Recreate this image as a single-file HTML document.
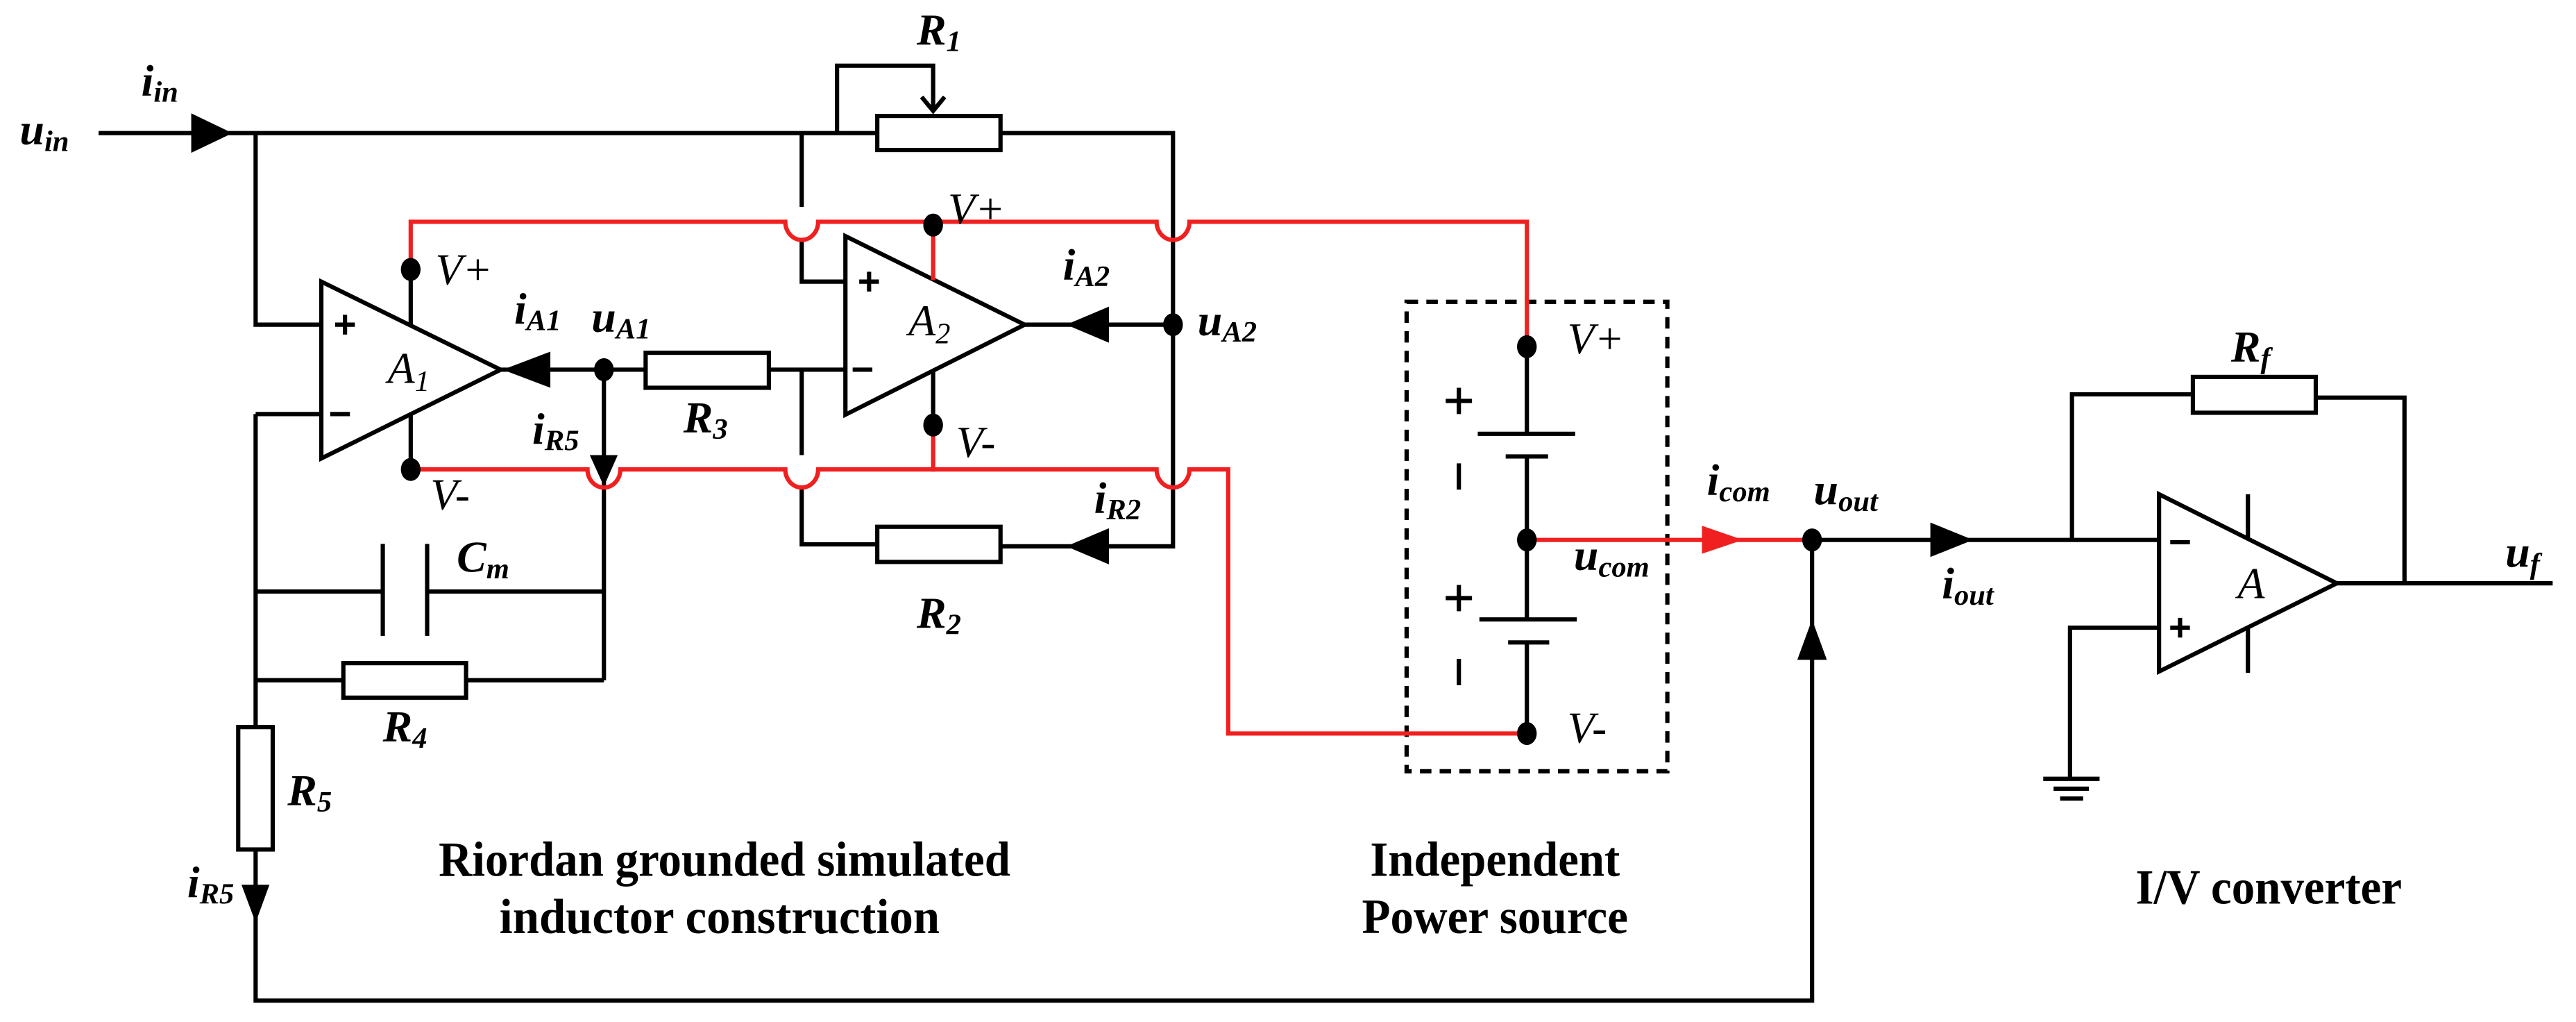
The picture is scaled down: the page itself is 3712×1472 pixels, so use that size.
<!DOCTYPE html>
<html><head><meta charset="utf-8"><style>
html,body{margin:0;padding:0;background:#fff;}
svg{display:block;}
svg text{font-family:"Liberation Serif","DejaVu Serif",serif;}
.l{font-style:italic;font-weight:bold;font-size:27px;}
.s{font-size:18px;}
.t{font-weight:bold;font-size:30px;}
</style></head><body>
<svg width="3712" height="1472" viewBox="0 0 1568 622" preserveAspectRatio="none" xmlns="http://www.w3.org/2000/svg" font-family="Liberation Serif, DejaVu Serif, serif">
<g fill="none" stroke="#000" stroke-width="2.6" stroke-linejoin="miter">
<path d="M60 81 H534 M609 81 H714 V332.5 H609"/>
<path d="M155.6 81 V197.6 H195.6"/>
<rect x="534" y="70.6" width="75" height="20.7"/>
<path d="M509.5 81 V40 H568 V67"/>
<path d="M561 59 L568 67.5 L575 59"/>
<path d="M195.6 171.4 V279 L304.7 225 Z"/>
<path d="M250 164 V198 M250 252 V285.7"/>
<path d="M155.6 252 H195.6 M155.6 252 V442.5"/>
<path d="M304.7 225 H393 M468 225 H514.6"/>
<rect x="393" y="214.7" width="75" height="21.3"/>
<path d="M367.6 225 V414"/>
<path d="M514.6 143.7 V252.4 L623.7 197.6 Z"/>
<path d="M488 81 V126 M488 146 V171.4 H514.6"/>
<path d="M488 225 V277 M488 297 V331.3 H534"/>
<rect x="534" y="320.6" width="75" height="21.4"/>
<path d="M623.7 197.6 H714"/>
<path d="M568 225.6 V258.7"/>
<path d="M155.6 360 H233 M260 360 H367.6"/>
<path d="M233 331 V387 M260 331 V387"/>
<path d="M155.6 414 H209 M283.7 414 H367.6"/>
<rect x="209" y="403.6" width="74.7" height="21"/>
<rect x="145" y="442.5" width="21" height="74.5"/>
<path d="M155.6 517 V609 H1103 V328.6"/>
<path d="M929.4 211 V264 M929.4 277.8 V377 M929.4 391 V446.4"/>
<path d="M899.5 264 H958.8 M916.5 277.8 H942.3 M900.5 377 H959.8 M918 391 H943"/>
<path d="M888 236 V252 M880 244 H896 M888 282 V298 M888 356 V372 M880 364 H896 M888 401 V417"/>
<rect x="856.2" y="183.7" width="158.7" height="285.7" stroke-dasharray="7,5"/>
<path d="M1103 328.6 H1314.2"/>
<path d="M1314.2 300.8 V408.7 L1422.4 355 Z"/>
<path d="M1368.3 300.8 V327 M1368.3 381 V409.5"/>
<path d="M1261.2 328.6 V240 H1334.8 M1409.6 242 H1463.6 V355 M1422.4 355 H1553.8"/>
<rect x="1334.8" y="229.4" width="74.8" height="21.8"/>
<path d="M1314.2 382 H1260 V474"/>
<path d="M1243.7 474 H1278 M1250 480 H1271.5 M1254 486 H1268"/>
<path d="M1321 330 H1333 M1321 382 H1333 M1327 376 V388"/>
<path d="M204 197.6 H216 M210 191.6 V203.6 M201 252 H213"/>
<path d="M523 171.4 H535 M529 165.4 V177.4 M519 225 H531"/>
</g>
<g fill="none" stroke="#f02020" stroke-width="2.6">
<path d="M250 164 V135 H478 a10 11 0 0 0 20 0 H704 a10 11 0 0 0 20 0 H929.4 V211"/>
<path d="M251 285.7 H357.6 a10 11 0 0 0 20 0 H478 a10 11 0 0 0 20 0 H704 a10 11 0 0 0 20 0 H747.6 V446.4 H929.4"/>
<path d="M568 137 V170.5 M568 258.7 V287"/>
<path d="M929.4 328.6 H1103"/>
</g>
<polygon points="1036,320 1061,328.6 1036,337" fill="#f02020"/>
<g fill="#000">
<polygon points="116.4,69 141.5,81 116.4,93"/>
<polygon points="335,214 306,225 335,236"/>
<polygon points="675,186.6 649,197.6 675,208.6"/>
<polygon points="675,321.5 649,332.5 675,343.5"/>
<polygon points="359,277 376,277 367.6,296"/>
<polygon points="147,538.5 164,538.5 155.6,561.5"/>
<polygon points="1094,401.6 1112,401.6 1103,377"/>
<polygon points="1175,318 1201,328.6 1175,339"/>
<ellipse cx="250" cy="164" rx="6" ry="7"/>
<ellipse cx="250" cy="285.7" rx="6" ry="7"/>
<ellipse cx="367.6" cy="225" rx="6" ry="7"/>
<ellipse cx="568" cy="137" rx="6" ry="7"/>
<ellipse cx="568" cy="258.7" rx="6" ry="7"/>
<ellipse cx="714" cy="197.6" rx="6" ry="7"/>
<ellipse cx="929.4" cy="211" rx="6" ry="7"/>
<ellipse cx="929.4" cy="328.6" rx="6" ry="7"/>
<ellipse cx="929.4" cy="446.4" rx="6" ry="7"/>
<ellipse cx="1103" cy="328.6" rx="6" ry="7"/>
</g>
<g class="l">
<text x="12" y="88">u<tspan class="s" dy="4">in</tspan></text>
<text x="86" y="58">i<tspan class="s" dy="4">in</tspan></text>
<text x="558" y="27">R<tspan class="s" dy="4">1</tspan></text>
<text x="265" y="173" font-weight="normal">V+</text>
<text x="313" y="197">i<tspan class="s" dy="4">A1</tspan></text>
<text x="360" y="202">u<tspan class="s" dy="4">A1</tspan></text>
<text x="236" y="233" font-weight="normal">A<tspan class="s" dy="5">1</tspan></text>
<text x="553" y="204" font-weight="normal">A<tspan class="s" dy="5">2</tspan></text>
<text x="577" y="136" font-weight="normal">V+</text>
<text x="647" y="170">i<tspan class="s" dy="4">A2</tspan></text>
<text x="729" y="204">u<tspan class="s" dy="4">A2</tspan></text>
<text x="416" y="263">R<tspan class="s" dy="4">3</tspan></text>
<text x="324" y="270">i<tspan class="s" dy="4">R5</tspan></text>
<text x="582" y="278" font-weight="normal">V-</text>
<text x="262" y="310" font-weight="normal">V-</text>
<text x="666" y="312">i<tspan class="s" dy="4">R2</tspan></text>
<text x="278" y="348">C<tspan class="s" dy="4">m</tspan></text>
<text x="558" y="382">R<tspan class="s" dy="4">2</tspan></text>
<text x="233" y="451">R<tspan class="s" dy="4">4</tspan></text>
<text x="175" y="490">R<tspan class="s" dy="4">5</tspan></text>
<text x="114" y="546">i<tspan class="s" dy="4">R5</tspan></text>
<text x="954" y="215" font-weight="normal">V+</text>
<text x="954" y="452" font-weight="normal">V-</text>
<text x="1039" y="301">i<tspan class="s" dy="4">com</tspan></text>
<text x="1104" y="307">u<tspan class="s" dy="4">out</tspan></text>
<text x="958" y="347">u<tspan class="s" dy="4">com</tspan></text>
<text x="1182" y="364">i<tspan class="s" dy="4">out</tspan></text>
<text x="1358" y="220">R<tspan class="s" dy="4">f</tspan></text>
<text x="1362" y="364" font-weight="normal">A</text>
<text x="1525" y="345">u<tspan class="s" dy="4">f</tspan></text>
</g>
<g class="t" text-anchor="middle">
<text x="441" y="533" textLength="348" lengthAdjust="spacingAndGlyphs">Riordan grounded simulated</text>
<text x="438" y="568" textLength="268" lengthAdjust="spacingAndGlyphs">inductor  construction</text>
<text x="910" y="533" textLength="152" lengthAdjust="spacingAndGlyphs">Independent</text>
<text x="910" y="568" textLength="162" lengthAdjust="spacingAndGlyphs">Power source</text>
<text x="1381" y="550" textLength="162" lengthAdjust="spacingAndGlyphs">I/V converter</text>
</g>
</svg>
</body></html>
